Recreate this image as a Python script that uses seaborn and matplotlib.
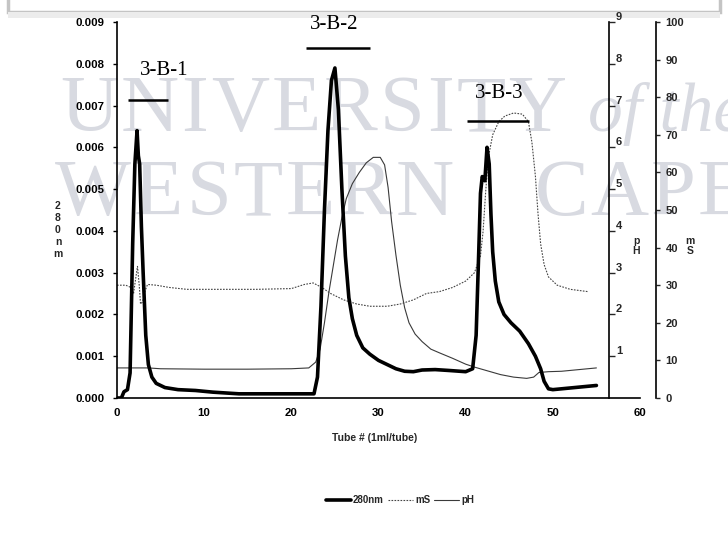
import numpy as np
import pandas as pd
import matplotlib
matplotlib.use("Agg")
import matplotlib.pyplot as plt
import seaborn as sns
from matplotlib.patches import Rectangle
from matplotlib.lines import Line2D

sns.set_theme(style="white")
plt.rcParams['font.family'] = ['Liberation Sans', 'DejaVu Sans']

# ---------------- data ----------------
# absorbance at 280 nm (left axis)
a280_x = [0, 0.5, 0.8, 1.2, 1.5, 1.8, 2.05, 2.3, 2.45, 2.6, 2.8, 3.0, 3.3, 3.6, 4.0, 4.5, 5.5, 7, 9, 11, 14, 18, 21,
          22.6, 23.0, 23.4, 23.8, 24.2, 24.6, 25.0, 25.4, 25.8, 26.2, 26.6, 27.0, 27.5, 28.2, 29, 30, 31, 32, 33, 34, 35,
          36.5, 38, 40, 40.8, 41.2, 41.5, 41.7, 41.9, 42.2, 42.45, 42.7, 42.9, 43.1, 43.4, 43.8, 44.4, 45.2, 46.2, 47.2,
          48.0, 48.6, 49.0, 49.5, 50, 51, 53, 55]
a280_y = [0, 0, 0.00015, 0.0002, 0.0006, 0.0037, 0.0056, 0.0064, 0.0058, 0.0056, 0.0041, 0.0030, 0.0015, 0.0008,
          0.0005, 0.00035, 0.00025, 0.0002, 0.00018, 0.00014, 0.0001, 0.0001, 0.0001,
          0.0001, 0.0005, 0.0022, 0.0045, 0.0064, 0.0076, 0.0079, 0.0069, 0.0050, 0.0034, 0.0024, 0.0019, 0.0015,
          0.0012, 0.00105, 0.0009, 0.0008, 0.0007, 0.00064, 0.00063, 0.00067,
          0.00068, 0.00066, 0.00063, 0.0007, 0.0015, 0.0035, 0.0049, 0.0053, 0.0052, 0.0060, 0.0056, 0.0044, 0.0035,
          0.0028, 0.0023, 0.0020, 0.0018, 0.0016, 0.0013,
          0.0010, 0.0007, 0.0004, 0.00022, 0.0002, 0.00022, 0.00026, 0.0003]

# pH trace (thin solid, pH axis)
ph_x = [0, 1.5, 3.6, 5, 10, 15, 20, 22, 22.8, 23.3, 23.8, 24.3, 24.8, 25.3, 25.8, 26.3, 27, 27.8, 28.6, 29.4, 30.2,
        30.7, 31.1, 31.5, 32, 32.5, 33, 33.5, 34.2, 35, 36, 37, 38.5, 40, 41, 42.5, 44, 45.5, 47, 47.8, 48.4, 49.5,
        51, 53, 55]
ph_y = [0.72, 0.72, 0.72, 0.70, 0.69, 0.69, 0.70, 0.72, 0.86, 1.17, 1.8, 2.52, 3.15, 3.78, 4.32, 4.77, 5.13, 5.4,
        5.63, 5.76, 5.76, 5.58, 5.04, 4.23, 3.42, 2.7, 2.16, 1.8, 1.53, 1.35, 1.17, 1.08, 0.95, 0.81, 0.74, 0.65,
        0.56, 0.50, 0.47, 0.50, 0.61, 0.63, 0.64, 0.68, 0.72]

# conductivity trace (dotted, mS axis)
ms_x = [0, 1.0, 1.6, 1.9, 2.1, 2.35, 2.55, 2.7, 2.95, 3.2, 3.5, 4.5, 6, 8, 12, 16, 20, 21.5, 22.5, 23.5, 24.5, 26,
        27.5, 29, 31, 32.5, 34, 35.5, 37, 38.5, 40, 41, 41.7, 42.0, 42.3, 42.6, 43.1, 43.8, 44.5, 45.5, 46.5, 47.2,
        47.6, 48.0, 48.3, 48.6, 49.0, 49.5, 50.5, 52, 54]
ms_y = [30, 30, 29.4, 27.8, 31.1, 35, 30, 25, 25.6, 28.3, 30.2, 30, 29.4, 28.9, 28.9, 28.9, 29.1, 30.2, 30.6, 29.4,
        27.8, 26.1, 25, 24.4, 24.4, 25, 26.1, 27.8, 28.3, 29.4, 31.1, 33.3, 37.8, 44.4, 55, 64, 70, 73.5,
        75, 75.8, 75.5, 73.5, 68, 59, 49, 41, 35.5, 32.2, 30, 28.9, 28.3]

left_ticks = [0.000, 0.001, 0.002, 0.003, 0.004, 0.005, 0.006, 0.007, 0.008, 0.009]
ph_ticks = [1, 2, 3, 4, 5, 6, 7, 8, 9]
ms_ticks = [0, 10, 20, 30, 40, 50, 60, 70, 80, 90, 100]
x_ticks = [0, 10, 20, 30, 40, 50, 60]

# fractions: label, start tube, end tube, bar level, label position
frac_names = ["3-B-1", "3-B-2", "3-B-3"]
frac_start = [1.3, 21.7, 40.1]
frac_end = [5.9, 29.0, 47.3]
frac_bar = [0.00713, 0.00837, 0.00663]
frac_text_x = [5.4, 24.9, 43.8]
frac_text_y = [0.00785, 0.00893, 0.00730]

df280 = pd.DataFrame({"tube": a280_x, "abs": a280_y})
dfph = pd.DataFrame({"tube": ph_x, "pH": ph_y})
dfms = pd.DataFrame({"tube": ms_x, "mS": ms_y})

# ---------------- figure ----------------
W, H = 728, 537
fig = plt.figure(figsize=(W / 100, H / 100), dpi=100)
fig.patch.set_facecolor("white")
renderer = fig.canvas.get_renderer()


def fx(px):
    return px / W


def fy(py):
    return 1 - py / H


# top banner (edge of a box)
fig.patches.append(Rectangle((fx(8), fy(12)), fx(712), fy(-20) - fy(12), transform=fig.transFigure,
                             facecolor="white", edgecolor="#c4c4c4", lw=2.5, zorder=-2))
fig.patches.append(Rectangle((fx(8), fy(18)), fx(712), fy(12) - fy(18), transform=fig.transFigure,
                             facecolor="#ececec", edgecolor="none", zorder=-2))

# watermark (letter-spaced)
wm_color = "#d8dae1"


def spaced(text, x_px, base_px, size, gap, style="normal"):
    x = x_px
    for ch in text:
        t = fig.text(fx(x), fy(base_px), ch, fontsize=size, family="Liberation Serif", style=style,
                     color=wm_color, ha="left", va="baseline", zorder=-1)
        w = t.get_window_extent(renderer).width
        x += w + gap


spaced("UNIVERSITY", 60, 131, 58, 2.5)
fig.text(fx(588), fy(131), "of the", fontsize=50, family="Liberation Serif", style="italic",
         color=wm_color, ha="left", va="baseline", zorder=-1)
spaced("WESTERN", 55, 215, 58, 3)
spaced("CAPE", 535, 215, 58, 2)

x0, x1 = 117, 640
y0, y1 = 398, 22
ax = fig.add_axes([fx(x0), fy(y0), fx(x1 - x0), fy(y1) - fy(y0)])
ax.patch.set_alpha(0)

sns.lineplot(data=df280, x="tube", y="abs", ax=ax, color="black", lw=2.6, estimator=None, sort=False,
             legend=False, zorder=5)
ax.set_xlim(0, 60)
ax.set_ylim(0, 0.009)
ax.set_xticks(x_ticks)
ax.set_yticks(left_ticks)
ax.set_yticklabels([f"{v:.3f}" for v in left_ticks])
ax.set_xlabel("")
ax.set_ylabel("")
for s in ["top", "right"]:
    ax.spines[s].set_visible(False)
for s in ["left", "bottom"]:
    ax.spines[s].set_color("black")
    ax.spines[s].set_linewidth(1.2)
ax.tick_params(axis="both", which="major", labelsize=8.2, colors="black", length=3, width=1,
               direction="out", pad=6)
ax.tick_params(axis="x", direction="inout", length=5, pad=5)
for lab in ax.get_xticklabels() + ax.get_yticklabels():
    lab.set_fontweight("bold")

# pH axis
axp = ax.twinx()
axp.patch.set_alpha(0)
sns.lineplot(data=dfph, x="tube", y="pH", ax=axp, color="#3a3a3a", lw=0.8, estimator=None, sort=False,
             legend=False, zorder=3)
axp.set_ylim(0, 9)
axp.set_yticks(ph_ticks)
axp.set_ylabel("")
axp.spines["right"].set_position(("axes", (609 - x0) / (x1 - x0)))
axp.spines["right"].set_linewidth(1.2)
axp.spines["right"].set_color("black")
for s in ["top", "left", "bottom"]:
    axp.spines[s].set_visible(False)
axp.tick_params(axis="y", labelsize=8, length=4, width=1, direction="out", pad=1)
for lab in axp.get_yticklabels():
    lab.set_fontweight("bold")
    lab.set_verticalalignment("bottom")

# mS axis
axm = ax.twinx()
axm.patch.set_alpha(0)
sns.lineplot(data=dfms, x="tube", y="mS", ax=axm, color="#444444", lw=0.8, estimator=None, sort=False,
             legend=False, zorder=3)
for ln in axm.get_lines():
    ln.set_linestyle((0, (1.5, 1.2)))
axm.set_ylim(0, 100)
axm.set_yticks(ms_ticks)
axm.set_ylabel("")
axm.spines["right"].set_position(("axes", (656 - x0) / (x1 - x0)))
axm.spines["right"].set_linewidth(1.2)
axm.spines["right"].set_color("black")
for s in ["top", "left", "bottom"]:
    axm.spines[s].set_visible(False)
axm.tick_params(axis="y", labelsize=8, length=3, width=1, direction="out", pad=4)
for lab in axm.get_yticklabels():
    lab.set_fontweight("bold")

ax.set_zorder(axm.get_zorder() + 2)
ax.set_xlim(0, 60)

# fraction annotations
for name, s, e, b, tx, ty in zip(frac_names, frac_start, frac_end, frac_bar, frac_text_x, frac_text_y):
    ax.plot([s, e], [b, b], color="black", lw=1.8, solid_capstyle="butt", zorder=6)
    ax.text(tx, ty, name, ha="center", va="center", fontsize=15, family="Liberation Serif",
            color="black", zorder=6)

# axis titles
fig.text(fx(58), fy(230), "2\n8\n0\nn\nm", fontsize=7.5, fontweight="bold", ha="center", va="center",
         linespacing=1.25)
fig.text(fx(636), fy(246), "p\nH", fontsize=7.5, fontweight="bold", ha="center", va="center", linespacing=1.0)
fig.text(fx(690), fy(246), "m\nS", fontsize=7.5, fontweight="bold", ha="center", va="center", linespacing=1.0)
fig.text(fx(375), fy(438), "Tube # (1ml/tube)", fontsize=7.5, fontweight="bold", ha="center", va="center")

# legend
handles = [Line2D([], [], color="black", lw=2.6),
           Line2D([], [], color="#444444", lw=0.8, linestyle=(0, (1.5, 1.2))),
           Line2D([], [], color="#3a3a3a", lw=0.8)]
fig.legend(handles, ["280nm", "mS", "pH"], loc="center", bbox_to_anchor=(fx(400), fy(500)), ncol=3,
           frameon=False, prop={"size": 7, "weight": "bold"}, handlelength=2.6, handletextpad=0.2,
           columnspacing=0.4)

fig.savefig("out.png", dpi=100, facecolor="white")
